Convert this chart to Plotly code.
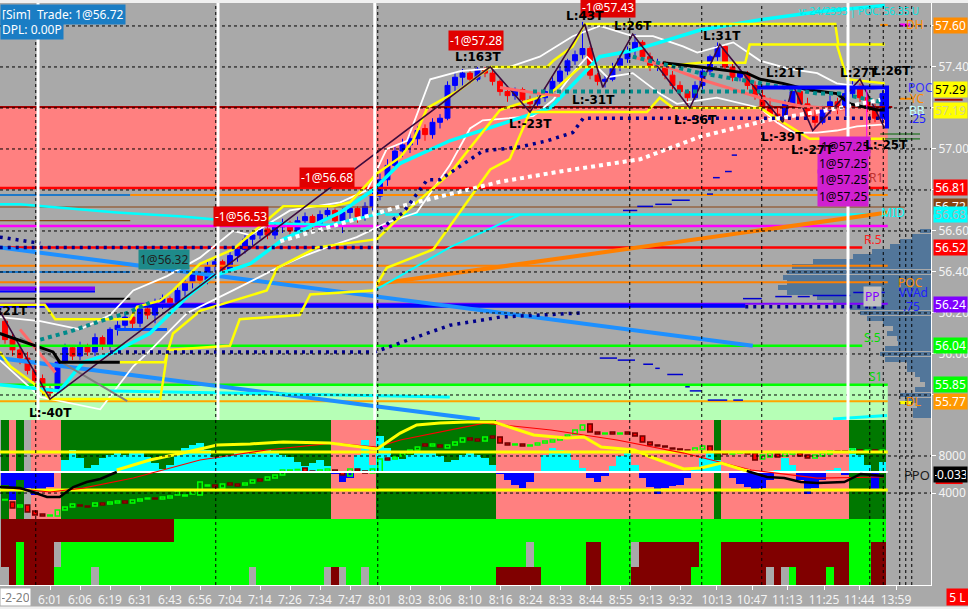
import plotly.graph_objects as go
from plotly.subplots import make_subplots

# ---------------- data ----------------
bar_index = list(range(-2, 116))

open_ = [56.16, 56.07, 56.02, 55.98, 55.92, 55.88, 55.83, 55.82, 55.96, 56.03,
         55.99, 56.04, 56.01, 56.08, 56.04, 56.12, 56.14, 56.18, 56.15, 56.22,
         56.19, 56.25, 56.27, 56.25, 56.31, 56.35, 56.39, 56.36, 56.43, 56.45,
         56.41, 56.48, 56.51, 56.56, 56.58, 56.61, 56.58, 56.62, 56.64, 56.60,
         56.65, 56.67, 56.63, 56.68, 56.70, 56.65, 56.69, 56.71, 56.67, 56.72,
         56.77, 56.85, 56.92, 56.99, 57.02, 57.05, 57.10, 57.07, 57.13, 57.15,
         57.31, 57.35, 57.37, 57.34, 57.39, 57.37, 57.33, 57.28, 57.26, 57.29,
         57.24, 57.22, 57.25, 57.28, 57.33, 57.38, 57.43, 57.46, 57.49, 57.36,
         57.33, 57.34, 57.40, 57.44, 57.48, 57.52, 57.45, 57.40, 57.42, 57.36,
         57.31, 57.28, 57.25, 57.31, 57.38, 57.45, 57.50, 57.40, 57.35, 57.37,
         57.31, 57.26, 57.21, 57.17, 57.16, 57.22, 57.28, 57.22, 57.16, 57.13,
         57.19, 57.23, 57.20, 57.27, 57.31, 57.25, 57.20, 57.15]
high_ = [56.18, 56.10, 56.05, 56.01, 55.95, 55.90, 55.85, 55.98, 56.05, 56.04,
         56.06, 56.05, 56.10, 56.09, 56.13, 56.16, 56.20, 56.19, 56.24, 56.23,
         56.27, 56.29, 56.28, 56.33, 56.37, 56.41, 56.40, 56.45, 56.47, 56.46,
         56.50, 56.53, 56.58, 56.60, 56.63, 56.62, 56.64, 56.66, 56.65, 56.67,
         56.69, 56.68, 56.70, 56.73, 56.71, 56.71, 56.73, 56.72, 56.74, 56.79,
         56.88, 56.95, 57.01, 57.05, 57.08, 57.11, 57.12, 57.15, 57.17, 57.33,
         57.37, 57.39, 57.38, 57.40, 57.40, 57.40, 57.34, 57.30, 57.30, 57.30,
         57.26, 57.26, 57.30, 57.35, 57.40, 57.44, 57.48, 57.62, 57.50, 57.37,
         57.36, 57.42, 57.46, 57.50, 57.56, 57.53, 57.47, 57.44, 57.43, 57.38,
         57.33, 57.29, 57.33, 57.40, 57.46, 57.52, 57.51, 57.42, 57.39, 57.38,
         57.33, 57.29, 57.25, 57.20, 57.24, 57.31, 57.29, 57.25, 57.19, 57.21,
         57.26, 57.25, 57.29, 57.34, 57.32, 57.27, 57.22, 57.31]
low_ = [56.05, 55.99, 55.95, 55.90, 55.85, 55.80, 55.79, 55.81, 55.94, 55.97,
        55.97, 55.99, 55.99, 56.02, 56.02, 56.09, 56.12, 56.12, 56.13, 56.17,
        56.15, 56.22, 56.22, 56.23, 56.28, 56.32, 56.33, 56.34, 56.40, 56.39,
        56.40, 56.45, 56.49, 56.53, 56.56, 56.56, 56.56, 56.59, 56.58, 56.58,
        56.62, 56.61, 56.61, 56.66, 56.62, 56.59, 56.66, 56.64, 56.65, 56.70,
        56.75, 56.82, 56.90, 56.96, 56.98, 57.02, 57.04, 57.05, 57.10, 57.14,
        57.28, 57.31, 57.32, 57.33, 57.35, 57.31, 57.26, 57.23, 57.24, 57.22,
        57.18, 57.20, 57.23, 57.27, 57.31, 57.36, 57.41, 57.44, 57.34, 57.31,
        57.30, 57.33, 57.38, 57.42, 57.45, 57.43, 57.38, 57.38, 57.34, 57.29,
        57.26, 57.21, 57.23, 57.29, 57.36, 57.43, 57.38, 57.33, 57.33, 57.29,
        57.24, 57.19, 57.15, 57.13, 57.15, 57.20, 57.20, 57.14, 57.10, 57.12,
        57.17, 57.17, 57.19, 57.25, 57.23, 57.18, 57.13, 57.12]
close_ = [56.07, 56.02, 55.98, 55.92, 55.87, 55.82, 55.81, 55.96, 56.03, 55.99,
          56.04, 56.01, 56.08, 56.04, 56.12, 56.14, 56.18, 56.15, 56.22, 56.19,
          56.25, 56.27, 56.25, 56.31, 56.35, 56.39, 56.36, 56.43, 56.45, 56.41,
          56.48, 56.51, 56.56, 56.58, 56.61, 56.58, 56.62, 56.64, 56.60, 56.65,
          56.67, 56.63, 56.68, 56.70, 56.65, 56.69, 56.71, 56.67, 56.72, 56.77,
          56.85, 56.92, 56.99, 57.02, 57.05, 57.09, 57.07, 57.13, 57.15, 57.31,
          57.35, 57.37, 57.34, 57.39, 57.37, 57.33, 57.28, 57.26, 57.29, 57.24,
          57.22, 57.25, 57.28, 57.33, 57.38, 57.43, 57.46, 57.49, 57.36, 57.33,
          57.34, 57.40, 57.44, 57.48, 57.52, 57.45, 57.40, 57.42, 57.36, 57.31,
          57.28, 57.25, 57.31, 57.38, 57.45, 57.50, 57.40, 57.35, 57.37, 57.31,
          57.26, 57.21, 57.17, 57.16, 57.22, 57.28, 57.22, 57.16, 57.13, 57.19,
          57.23, 57.20, 57.27, 57.31, 57.25, 57.20, 57.15, 57.27]

# oscillator panel (mini candles + histogram)
mini_open = [3250, 3030, 2490, 2710, 2060, 1740, 1520, 1520, 2170, 2490,
             2710, 2600, 2600, 2920, 2820, 2920, 3140, 2920, 3140, 3360,
             3460, 3360, 3460, 3790, 3680, 3900, 3790, 4760, 4870, 4540,
             5080, 4980, 4870, 5080, 5520, 5410, 5620, 5950, 6380, 6490,
             6700, 6380, 6270, 6380, 6490, 6270, 5840, 6600, 6380, 6160,
             6270, 7780, 7680, 8000, 8320, 8650, 9300, 9080, 9190, 8860,
             9190, 9510, 9940, 9840, 9620, 10160, 10050, 9400, 9190, 9300,
             9080, 9190, 9400, 9510, 9730, 10050, 10380, 10810, 11460, 10590,
             10380, 10590, 10380, 10590, 10480, 10160, 9510, 9190, 9080, 8860,
             8760, 8650, 8540, 8760, 9080, 8540, 8430, 8220, 8320, 8430,
             8320, 7680, 7890, 8220, 8000, 8220, 8320, 8110, 7780, 8000,
             8220, 8540, 8540, 8320, 8650, 8540, 8650, 8540]
mini_close = [3250, 2380, 2710, 1950, 1630, 1520, 1630, 2170, 2490, 2820,
              2600, 2490, 2920, 2710, 3030, 3140, 2920, 3250, 3360, 3460,
              3360, 3570, 3680, 4220, 3790, 4330, 5190, 4870, 4650, 4980,
              4870, 4760, 5080, 5410, 5300, 5730, 5950, 6490, 6490, 6490,
              6270, 6270, 6490, 6600, 6270, 5950, 6600, 6380, 6160, 6600,
              7680, 7570, 7890, 8320, 8650, 8970, 9080, 9300, 8970, 9190,
              9510, 9940, 9730, 9620, 10050, 9940, 9400, 9190, 9300, 9080,
              9190, 9400, 9620, 9730, 10050, 10270, 10810, 11350, 10590, 10380,
              10480, 10380, 10480, 10380, 10160, 9510, 9190, 9080, 8970, 8760,
              8650, 8540, 8860, 9080, 8430, 8320, 8220, 8320, 8320, 8220,
              7570, 8110, 8320, 7890, 8320, 8430, 8000, 7780, 8110, 8320,
              8540, 8430, 8430, 8760, 8540, 8650, 8540, 8650]
ppo_hist = [-1400, -3020, -860, -1730, -2480, -2160, -1620, -110, 1300, 2380,
            1510, 430, 760, 1510, 1840, 2050, 1840, 2160, 2160, 1620,
            970, 320, 760, 1840, 2590, 2920, 3130, 2380, 1620, 1730,
            1840, 2050, 2160, 1940, 2160, 2380, 2160, 1840, 1620, 1080,
            650, 970, 1300, 650, -220, -1080, -650, 1840, 3460, 760,
            3890, 2590, 1620, 1400, 1840, 2050, 2160, 2160, 1730, 1080,
            1300, 1840, 2050, 1840, 1510, 760, -220, -860, -1400, -1730,
            -1080, 20, 1840, 2590, 2380, 2050, 1300, 430, -650, -1080,
            -430, 650, 1730, 2160, 760, -650, -1620, -2380, -1730, -1510,
            -1400, -650, 430, 1510, 2050, 1300, -20, -650, -1300, -1620,
            -1940, -1730, -860, 220, 1510, 760, -860, -2380, -1730, -860,
            220, 430, -320, 2590, 1840, 760, -1940, 1080]
ppo_zero = 6270
ppo_bands = [8430, 4330]

# state runs (one character per bar)
osc_bg_runs = [('G', 1), ('P', 1), ('G', 1), ('X', 1), ('P', 4), ('G', 36), ('P', 6),
               ('G', 16), ('P', 29), ('G', 1), ('P', 17), ('G', 5)]
state_top_runs = [('R', 23), ('G', 95)]
state_mid_runs = [('R', 2), ('G', 1), ('R', 4), ('X', 1), ('G', 62), ('X', 1), ('G', 7),
                  ('R', 2), ('G', 4), ('X', 1), ('R', 8), ('G', 3), ('R', 17), ('G', 3), ('R', 2)]
state_bot_runs = [('X', 1), ('R', 1), ('G', 1), ('R', 4), ('G', 5), ('X', 1), ('G', 20), ('X', 1),
                  ('G', 9), ('X', 1), ('R', 1), ('X', 1), ('G', 2), ('X', 1), ('G', 17), ('R', 6),
                  ('G', 6), ('R', 2), ('G', 4), ('R', 8), ('G', 4), ('R', 6), ('X', 1), ('R', 1),
                  ('X', 1), ('G', 1), ('R', 4), ('G', 1), ('R', 2), ('G', 3), ('R', 2)]

# volume profile
profile_price = [56.600, 56.575, 56.550, 56.525, 56.500, 56.475, 56.450, 56.425, 56.400, 56.375,
                 56.350, 56.325, 56.300, 56.275, 56.250, 56.225, 56.200, 56.175, 56.150, 56.125,
                 56.100, 56.075, 56.050, 56.025, 56.000, 55.975, 55.950, 55.925, 55.900, 55.875,
                 55.850, 55.825, 55.800, 55.775, 55.750, 55.725, 55.700]
profile_vol = [110, 190, 310, 410, 590, 780, 1180, 1390, 1440, 1480,
               1440, 1530, 1440, 1140, 980, 810, 710, 640, 480, 380,
               440, 340, 330, 460, 510, 460, 240, 240, 160, 110,
               60, 160, 310, 260, 140, 180, 180]

# price levels
lvl_price = [57.205, 56.81, 56.776, 56.776, 56.717, 56.65, 56.68, 56.624, 56.52, 56.43, 56.35,
             56.245, 56.235, 56.04, 55.85, 55.77, 56.40, 56.32, 56.305, 56.27, 56.12,
             57.605, 57.605, 57.245, 55.763, 57.073, 57.049]
lvl_from = [-2.7, -2.7, -2.7, 14.7, -2.7, -2.7, 48.7, -2.7, -2.7, -2.7, -2.7,
            -2.7, -2.7, -2.7, -2.7, -2.7, -2.7, -2.7, -2.7, -2.7, 12.9,
            114.7, 117.3, 117.3, 117.3, 114.7, 114.7]
lvl_to = [116.3, 115.7, 14.7, 115.7, 118.0, 14.7, 115.7, 115.7, 112.3, 115.7, 115.7,
          115.7, 96.7, 112.3, 115.7, 115.7, 14.7, 10.0, 10.0, 14.7, 19.6,
          115.7, 118.7, 118.9, 118.9, 120.0, 120.0]
pink_zone = [56.81, 57.205]
s1_zone = [55.678, 55.85]

# indicator lines (bar index, price)
wu_x = [-2.7, 2.7, 8, 12, 15.1, 19.6, 24, 28.4, 30.7, 36, 42.7, 46.3, 48.9, 51.6, 54.7, 58.7, 65.3,
        69.3, 73.7, 77.3, 81.7, 84.4, 88.4, 90.3, 95.1, 98.7, 102.7, 106.3, 108.9, 112.9, 115.3]
wu_y = [56.18, 56.16, 56.12, 56.19, 56.31, 56.38, 56.47, 56.60, 56.58, 56.70, 56.74, 56.80, 57.00,
        57.04, 57.34, 57.38, 57.40, 57.45, 57.55, 57.60, 57.55, 57.55, 57.50, 57.47, 57.52, 57.43,
        57.39, 57.37, 57.32, 57.30, 57.29]
wl_x = [-2.7, 2.7, 10.7, 15.1, 17.7, 22.3, 28.4, 34.3, 37.3, 40.9, 44.9, 48.9, 52.9, 56, 57.3, 60,
        61.7, 68.4, 71.1, 73.7, 75.6, 78.3, 81.7, 85.3, 87.6, 92.9, 98.7, 100.9, 103.1, 106.3,
        108.9, 111.6, 115.3]
wl_y = [55.97, 55.79, 55.73, 55.94, 56.03, 56.20, 56.31, 56.42, 56.47, 56.52, 56.57, 56.64, 56.69,
        56.85, 56.92, 57.10, 57.14, 57.16, 57.24, 57.37, 57.45, 57.35, 57.37, 57.27, 57.22, 57.25,
        57.20, 57.13, 57.08, 57.08, 57.09, 57.11, 57.12]
yu_x = [-2.7, 3.3, 4.7, 14.7, 15.6, 18.7, 20.4, 24, 28.4, 35.1, 41.7, 44, 47.6, 50.7, 52.4, 54.3,
        58.7, 62.7, 70.3, 71.1, 73.7, 75.3, 108.7, 109.1, 115.3]
yu_y = [56.24, 56.24, 56.17, 56.17, 56.23, 56.26, 56.31, 56.44, 56.51, 56.72, 56.72, 56.74, 56.88,
        56.96, 57.04, 57.20, 57.29, 57.40, 57.40, 57.43, 57.50, 57.61, 57.61, 57.51, 57.51]
ym_x = [13.3, 19.3, 20.4, 24, 32.9, 34.3, 39.6, 47.6, 50.7, 57.3, 64, 70.7, 74.7, 84.9, 90.7, 96.7,
        97.3, 108.9, 110.3, 115.3]
ym_y = [55.96, 55.96, 56.10, 56.21, 56.31, 56.42, 56.52, 56.56, 56.67, 56.88, 57.19, 57.27, 57.40,
        57.40, 57.42, 57.42, 57.51, 57.51, 57.34, 57.32]
yl_x = [-2.7, -1.3, 1.7, 4, 18.7, 19.7, 28, 29.3, 37.3, 38.7, 47.1, 48.9, 55.1, 62.7, 65.3, 68,
        83.6, 85.3, 87.1, 98.7, 100.4, 105.3, 115.3]
yl_y = [56.01, 55.94, 55.86, 55.78, 55.78, 56.02, 56.04, 56.17, 56.19, 56.29, 56.31, 56.42, 56.51,
        56.90, 56.95, 57.18, 57.18, 57.25, 57.20, 57.20, 57.16, 57.05, 57.05]
cy_x = [-2.7, 5.3, 8.4, 12, 17.3, 22.3, 25.7, 30.7, 35.1, 42.7, 47.1, 50.7, 57.3, 70.7, 77.3, 81.7,
        90.7, 98.7, 106.7, 115.3]
cy_y = [55.85, 55.82, 55.96, 56.00, 56.10, 56.28, 56.38, 56.44, 56.56, 56.69, 56.80, 56.93, 57.04,
        57.20, 57.45, 57.48, 57.58, 57.63, 57.67, 57.70]
cy2_x = [47.3, 57.3, 66.7]
cy2_y = [56.31, 56.52, 56.68]
cyl_x = [-2.7, 0, 3.1, 12.9, 21.7, 30.7, 41.3, 48.7]
cyl_y = [56.73, 56.73, 56.72, 56.69, 56.67, 56.64, 56.63, 56.69]
cyb_x = [12, 57.3, None, 108.4, 115.6]
cyb_y = [55.82, 55.79, None, 55.683, 55.70]
zz_x = [-2.7, 4, 62.7, 68, 75.3, 77.7, 81.7, 89.3, 93.3, 101.7, 103.1, 105.7, 112, 115.3]
zz_y = [56.21, 55.78, 57.40, 57.18, 57.61, 57.30, 57.56, 57.20, 57.51, 57.13, 57.31, 57.09, 57.34, 57.10]
gd_x = [0, 14.3]
gd_y = [56.08, 55.77]
sa_x = [0, 4.7, None, 64, 69.3, 72, None, 81.7, 86.3, 90.7, 98.7, 104, 110.7]
sa_y = [56.12, 55.91, None, 57.30, 57.27, 57.26, None, 57.45, 57.40, 57.34, 57.25, 57.21, 57.19]
bk_x = [-2.7, 4.4, 5.3, 13.3, None, 85.7, 90.7, 96.9, 98.7, 101.7, 104.9, 108.9, 110.7, 114.3, 115.3]
bk_y = [56.10, 56.01, 55.96, 55.96, None, 57.42, 57.40, 57.37, 57.34, 57.32, 57.29, 57.27, 57.22,
        57.19, 57.19]
teal_x = [2.7, 6.7, 10.7, 14.3, 17.3, None, 68.4, 98.7, None, 81.7, 90.7, 97.3, 101.7, 106.3, 109.3, 114.7]
teal_y = [56.07, 56.11, 56.16, 56.20, 56.25, None, 57.28, 57.28, None, 57.45, 57.37, 57.33, 57.30,
          57.27, 57.27, 57.23]
wd_x = [34.7, 50.7, 64, 72, 82.7, 90.7, 99.6, 109.3, 114.7]
wd_y = [56.55, 56.72, 56.84, 56.89, 56.95, 57.06, 57.14, 57.20, 57.24]
navy_x = [-2.7, 48, None, 12, 47.3, 57.3, 64, 74.7, None, 48, 51.1, 54.3, 56, 61.7, 66.7, 70.3, 73.7,
          75.1, 115.3, None, -2.7, 2.7, None, 96.7, 115.3]
navy_y = [56.52, 56.52, None, 56.01, 56.01, 56.14, 56.18, 56.20, None, 56.61, 56.69, 56.85, 56.85,
          56.99, 57.01, 57.04, 57.08, 57.15, 57.15, None, 56.57, 56.54, None, 56.23, 56.23]
db_x = [-2.7, 97.7, None, -2.7, 61.3]
db_y = [56.52, 56.04, None, 55.98, 55.68]
or_x = [47.3, 115.7]
or_y = [56.34, 56.69]
stair_x = [77.3, 79.6, None, 79.7, 82, None, 83.1, 84.4, None, 84.7, 85.3, None, 86.3, 88.4, None,
           88.7, 89.3, None, 89.3, 90.9, None, 91.7, 94.3, None, 95.1, 96.4, None,
           96.4, 98.9, None, 100.7, 102.9, None, 103.7, 105.3, None, 105.7, 110.7, None, 111.1, 115.3, None,
           80.4, 82.3, None, 82.3, 84.4, None, 84.7, 86.9, None, 86.9, 89.3, None, 91.6, 92.4, None,
           92.4, 93.3, None, 94, 94.9, None, 94.9, 95.6]
stair_y = [55.98, 55.98, None, 55.97, 55.97, None, 55.95, 55.95, None, 55.93, 55.93, None, 55.90, 55.90, None,
           55.84, 55.84, None, 55.82, 55.82, None, 55.775, 55.775, None, 55.775, 55.775, None,
           56.27, 56.27, None, 56.28, 56.28, None, 56.28, 56.28, None, 56.285, 56.285, None, 56.30, 56.30, None,
           56.70, 56.70, None, 56.72, 56.72, None, 56.73, 56.73, None, 56.75, 56.75, None, 56.78, 56.78, None,
           56.86, 56.86, None, 56.89, 56.89, None, 56.97, 56.97]
box_x = [98.3, 115.6, 115.6, None, 110.3, 110.3]
box_y = [57.30, 57.30, 57.10, None, 57.30, 57.16]
mag_x = [112.9, 112.9]
mag_y = [57.29, 56.75]

# oscillator lines
py_x = [12.9, 17.3, 21.7, 26.3, 30.7, 35.1, 41.3, 46.3, 47.6, 50.7, 52.9, 56, 59.6, 63.2, 66.3, 68.5,
        72.9, 75.2, 77.5, 81.9, 84.1, 88.5, 90.8, 93.5, 96.5, 97.3]
py_y = [6490, 7570, 8320, 9190, 9300, 9510, 9400, 8860, 8760, 10480, 11350, 11560, 11670, 11670, 10810,
        10270, 9940, 10050, 8970, 8650, 7890, 6600, 6700, 7240, 6490, 6380]
pb_x = [-2.7, 0, 1.7, 3.6, 5.3, 7.1, 8.9, 10.7, 12.9, None, 96.9, 99.6, 101.9, 104.1, 106.3, 109.9,
        112.1, 115.2]
pb_y = [4650, 4540, 4110, 3570, 3570, 4650, 5190, 5520, 6270, None, 6380, 5730, 5620, 5190, 5080, 5190,
        6060, 5840]
pr_x = [-2.7, 4, 8.4, 15.1, 24, 32.9, 41.7, 47.6, 50.7, 61.9, 70.8, 79.6, 88.5, 97.5, 106.3, 112.9, 115.2]
pr_y = [4650, 4110, 4540, 5620, 7570, 8650, 9400, 8970, 9730, 11560, 10810, 9730, 8320, 6490, 5620,
        5730, 5730]

# axis ticks
tick_pos = [4, 8, 12, 16, 20, 24, 28, 32, 36, 40, 44, 48, 52, 56, 60, 64.1, 68.1, 72.1, 76.1, 80.1,
            84.1, 88.1, 92.9, 97.6, 102.3, 107.2, 111.9, 116.8]
tick_text = ["6:01", "6:06", "6:19", "6:31", "6:43", "6:56", "7:04", "7:14", "7:26", "7:34", "7:47",
             "8:01", "8:03", "8:06", "8:10", "8:16", "8:24", "8:33", "8:44", "8:55", "9:13", "9:32",
             "10:13", "10:47", "11:13", "11:25", "11:44", "13:59"]
price_ticks = [55.8, 56.0, 56.2, 56.4, 56.6, 56.8, 57.0, 57.2, 57.4, 57.6]
price_tick_text = ["", "56.00", "56.20", "56.40", "56.60", "", "57.00", "", "57.40", ""]
osc_ticks = [4000, 8000]
session_marks = [2.1, 26.1, 47.7, 81.3, 90.9, 98.9, 113.3, 115.1, 117.3, 118.1, 118.9]
white_marks = [2.4, 26.4, 47.3, 110.4]

# labels
rlab_text = ["57.60", "57.29", "57.19", "56.81", "56.72", "56.68", "56.52", "56.24", "56.04", "55.85", "55.77"]
rlab_price = [57.60, 57.29, 57.19, 56.81, 56.72, 56.68, 56.52, 56.24, 56.04, 55.85, 55.77]
rlab_bg = ["#ff8c00", "#ffff00", "#ffff00", "#ff0000", "#8b4513", "#00ffff", "#ff0000", "#8000ff",
           "#00ff00", "#00ff00", "#ff9900"]
rlab_fg = ["white", "black", "#d4d48c", "white", "white", "#a8b8b8", "white", "white", "white", "white", "white"]
rt_text = ["POC", "YC", "BB", ".25", "R1", "MID", "R.5", "POC", "VVAd", "PP", ".75", "S.5", "S1", "DL", "DH"]
rt_x = [120, 119.6, 119.6, 119.7, 114.1, 116.4, 113.7, 118.7, 119.1, 113.7, 118.9, 113.7, 114, 119.1, 119.3]
rt_price = [57.30, 57.245, 57.19, 57.15, 56.86, 56.69, 56.56, 56.35, 56.30, 56.28, 56.23, 56.08, 55.89,
            55.77, 57.605]
rt_color = ["#3030ff", "#ff8c00", "#c0ffff", "#2020ff", "#c03030", "#00ffff", "#ff2020", "#ff8c00",
            "#2020ff", "#8000ff", "#2020ff", "#00dd00", "#00dd00", "#ff8c00", "#ff8c00"]
tr_text = ["-1@57.28", "-1@57.43", "-1@56.68", "-1@56.53", "1@56.32", "1@57.25", "1@57.25", "1@57.25", "1@57.25"]
tr_x = [60.8, 78.4, 40.9, 29.5, 19.2, 110, 109.7, 109.7, 109.7]
tr_price = [57.53, 57.69, 56.86, 56.67, 56.46, 57.01, 56.93, 56.85, 56.77]
tr_bg = ["#e00000", "#e00000", "#e00000", "#e00000", "#1e8a8a", "#d020d0", "#d020d0", "#d020d0", "#d020d0"]
tr_fg = ["white", "white", "white", "white", "#202020", "black", "black", "black", "black"]
sw_text = ["L:43T", "L:26T", "L:163T", "L:31T", "L:21T", "L:27T", "L:26T", "L:-31T", "L:-23T", "L:-36T",
           "L:-39T", "L:-27T", "L:-25T", "L:-40T"]
sw_x = [75.3, 81.7, 61.1, 93.6, 102, 111.9, 116.3, 76.4, 68, 90, 101.7, 105.6, 115.5, 4]
sw_price = [57.65, 57.60, 57.45, 57.55, 57.37, 57.37, 57.38, 57.24, 57.12, 57.14, 57.06, 56.995, 57.02, 55.71]

# ---------------- figure ----------------
GRAY = "#a9a9a9"
FONT = "Noto Sans"
x_range = [-2.667, 121.467]
main_range = [55.678, 57.712]
osc_range = [1196, 11888]
state_range = [0, 66]
state_base = [43, 18, 0]
state_h = [23, 25, 18]


def expand(runs):
    out = []
    for ch, n in runs:
        out += [ch] * n
    return out


fig = make_subplots(rows=3, cols=1, shared_xaxes=True, vertical_spacing=0)


def line(x, y, color, width, dash=None, row=1):
    fig.add_trace(go.Scatter(x=x, y=y, mode="lines", hoverinfo="skip",
                             line=dict(color=color, width=width, dash=dash)), row=row, col=1)


# volume profile
fig.add_trace(go.Bar(orientation="h", y=profile_price, x=[-v / 75 for v in profile_vol],
                     base=x_range[1], width=0.024, marker=dict(color="#52769a", line=dict(width=0)),
                     hoverinfo="skip"), row=1, col=1)

lvl_color = ["#a00000", "#ff0000", "#1e78c8", "#ff8c00", "#8b4513", "#8b4513", "#00ffff", "#ff00ff",
             "#ff0000", "#ff8000", "#ff8000", "#8000ff", "#0000ff", "#00ff00", "#00ff00", "#ffa500",
             "#1e78c8", "#8000ff", "#0000ff", "#000000", "#0050ff",
             "#ff8c00", "#ff00ff", "#ff8c00", "#ffff00", "#006400", "#006400"]
lvl_width = [2, 2.5, 2, 2, 1.2, 1.2, 2.5, 2.5, 2.5, 2, 2, 2, 4, 2.5, 2.5, 2, 2, 4, 2, 2, 3,
             2, 3, 2, 3, 1, 1]
for p, a, b, c, w in zip(lvl_price, lvl_from, lvl_to, lvl_color, lvl_width):
    line([a, b], [p, p], c, w)

line(db_x, db_y, "#1e90ff", 4)
line(or_x, or_y, "#ff8000", 4)
line(stair_x, stair_y, "#0000cd", 1.5)

# candles
fig.add_trace(go.Candlestick(x=bar_index, open=open_, high=high_, low=low_, close=close_,
                             increasing=dict(line=dict(color="#0000ff", width=1), fillcolor="#0000ff"),
                             decreasing=dict(line=dict(color="#ff0000", width=1), fillcolor="#ff0000"),
                             whiskerwidth=0, hoverinfo="skip"), row=1, col=1)

line(wu_x, wu_y, "#ffffff", 1.8)
line(wl_x, wl_y, "#ffffff", 1.8)
line(cyl_x, cyl_y, "#00ffff", 2.5)
line(cyb_x, cyb_y, "#00ffff", 3)
line(cy2_x, cy2_y, "#00ffff", 2)
line(cy_x, cy_y, "#00ffff", 3.5)
line(yl_x, yl_y, "#ffff00", 2.5)
line(ym_x, ym_y, "#ffff00", 2.5)
line(yu_x, yu_y, "#ffff00", 2.5)
line(gd_x, gd_y, "#808080", 2)
line(zz_x, zz_y, "#3c0a3c", 1.6)
line(sa_x, sa_y, "#ff6a6a", 3)
line(bk_x, bk_y, "#000000", 3)
line(teal_x, teal_y, "#008b8b", 4, dash="4px,4px")
line(wd_x, wd_y, "#ffffff", 4, dash="4px,4px")
line(navy_x, navy_y, "#00008b", 3.5, dash="3px,5px")
line(box_x, box_y, "#0000ff", 4)
line(mag_x, mag_y, "#ff00ff", 1)

# ---- oscillator panel ----
bg_map = {"G": "#007800", "P": "#ff8080", "X": GRAY}
fig.add_trace(go.Bar(x=bar_index, y=[osc_range[1] - osc_range[0]] * len(bar_index), base=osc_range[0],
                     width=1.02, marker=dict(color=[bg_map[c] for c in expand(osc_bg_runs)], line=dict(width=0)),
                     hoverinfo="skip"), row=2, col=1)
fig.add_trace(go.Bar(x=bar_index, y=ppo_hist, base=ppo_zero, width=1.02,
                     marker=dict(color=["#00ffff" if h >= 0 else "#0000ff" for h in ppo_hist], line=dict(width=0)),
                     hoverinfo="skip"), row=2, col=1)
for lv in ppo_bands:
    line([-2.7, 115.7], [lv, lv], "#ffff00", 3, row=2)
line([-2.7, 115.7], [ppo_zero, ppo_zero], "#ffffff", 2, row=2)
up = [c >= o for o, c in zip(mini_open, mini_close)]
fig.add_trace(go.Bar(x=bar_index, base=[min(o, c) for o, c in zip(mini_open, mini_close)],
                     y=[max(abs(c - o), 60) for o, c in zip(mini_open, mini_close)], width=0.6,
                     marker=dict(color=["rgba(0,0,0,0)" if u else "#ff0000" for u in up],
                                 line=dict(color=["#00ff00" if u else "#700000" for u in up], width=1.5)),
                     hoverinfo="skip"), row=2, col=1)
line(pr_x, pr_y, "#ff0000", 1.2, row=2)
line(py_x, py_y, "#ffff00", 3, row=2)
line(pb_x, pb_y, "#000000", 2.5, row=2)

# ---- state panel ----
st_map = {"R": "#800000", "G": "#00ff00", "X": GRAY}
for runs, b, h in zip([state_top_runs, state_mid_runs, state_bot_runs], state_base, state_h):
    fig.add_trace(go.Bar(x=bar_index, y=[h] * len(bar_index), base=b, width=1.02,
                         marker=dict(color=[st_map[c] for c in expand(runs)], line=dict(width=0)),
                         hoverinfo="skip"), row=3, col=1)

# ---------------- shapes ----------------
shapes = []
shapes.append(dict(type="rect", xref="x", yref="y", x0=-2.7, x1=115.7, y0=pink_zone[0], y1=pink_zone[1],
                   fillcolor="#ff8080", line=dict(width=0), layer="below"))
shapes.append(dict(type="rect", xref="x", yref="y", x0=-2.7, x1=115.7, y0=s1_zone[0], y1=s1_zone[1],
                   fillcolor="#b6ffb6", line=dict(width=0), layer="below"))
for p in price_ticks:
    shapes.append(dict(type="line", xref="paper", yref="y", x0=0, x1=1, y0=p, y1=p,
                       line=dict(color="black", width=1, dash="3px,3px"), layer="above"))
for v in osc_ticks:
    shapes.append(dict(type="line", xref="paper", yref="y2", x0=0, x1=1, y0=v, y1=v,
                       line=dict(color="black", width=1, dash="3px,3px"), layer="above"))
for xm in white_marks:
    shapes.append(dict(type="line", xref="x", yref="y domain", x0=xm, x1=xm, y0=0, y1=1,
                       line=dict(color="white", width=3), layer="above"))
for xm in session_marks:
    shapes.append(dict(type="line", xref="x", yref="paper", x0=xm, x1=xm, y0=0, y1=1,
                       line=dict(color="black", width=1, dash="3px,3px"), layer="above"))
shapes.append(dict(type="rect", xref="paper", yref="paper", x0=-0.01, x1=1.05, y0=1.0, y1=1.006,
                   fillcolor="#f0f0f0", line=dict(width=0), layer="above"))
shapes.append(dict(type="rect", xref="paper", yref="paper", x0=-0.01, x1=1.05, y0=-0.037, y1=-0.045,
                   fillcolor="#f0f0f0", line=dict(width=0), layer="above"))
shapes.append(dict(type="line", xref="paper", yref="y", x0=1.004, x1=1.034, y0=57.24, y1=57.24,
                   line=dict(color="#a00000", width=2)))
shapes.append(dict(type="line", xref="paper", yref="y2", x0=1.005, x1=1.034, y0=5080, y1=5080,
                   line=dict(color="#ff0000", width=2)))

# ---------------- annotations ----------------
ann = []


def text(t, x, y, color, size=12, xref="x", yref="y", bg=None, xanchor="center", yanchor="middle",
         family=FONT, width=None, height=None):
    d = dict(text=t, x=x, y=y, xref=xref, yref=yref, showarrow=False, xanchor=xanchor, yanchor=yanchor,
             font=dict(color=color, size=size, family=family), borderpad=1)
    if bg:
        d["bgcolor"] = bg
    if width:
        d["width"] = width
    if height:
        d["height"] = height
    ann.append(d)


for t, x, p, c in zip(rt_text, rt_x, rt_price, rt_color):
    text(t, x, p, c, size=12, bg="#c0c0c0" if t == "PP" else None)
text("v: 24/2393 | POC: 56.35 U", 103.6, 57.672, "#00e5e5", size=10, xanchor="left")
for t, x, p, b, f in zip(tr_text, tr_x, tr_price, tr_bg, tr_fg):
    text(t, x, p, f, size=12, bg=b)
for t, x, p in zip(sw_text, sw_x, sw_price):
    text("<b>%s</b>" % t, x, p, "black", size=12, family="DejaVu Sans")
text("<b>L:21T</b>", 1.3, 56.21, "black", size=12, family="DejaVu Sans", xanchor="right")
for t, p, b, f in zip(rlab_text, rlab_price, rlab_bg, rlab_fg):
    text(t, 1.0022, p, f, size=12, xref="paper", bg=b, xanchor="left", width=31, height=13)
text("PPO", 119.6, 5950, "#1a1a1a", size=13, yref="y2")
text("-0.033", 1.0022, 5950, "white", size=12, xref="paper", yref="y2", bg="black", xanchor="left",
     width=31, height=13)
text("[Sim]&nbsp; Trade: 1@56.72", 0, 0.9983, "white", size=12, xref="paper", yref="paper",
     bg="#1a7dc4", xanchor="left", yanchor="top")
text("DPL: 0.00P", 0, 0.9725, "white", size=12, xref="paper", yref="paper",
     bg="#1a7dc4", xanchor="left", yanchor="top")
text("-2-20", 0, -0.0206, "#808080", size=12, xref="paper", yref="paper", bg="white",
     xanchor="left", width=27, height=14)
text("5 L", 1.0161, -0.0206, "white", size=12, xref="paper", yref="paper", bg="#ff0000",
     xanchor="left", width=19, height=14)

# ---------------- layout ----------------
axis_font = dict(color="#f4f4f4", size=12, family=FONT)
fig.update_layout(
    width=968, height=609, margin=dict(l=0, r=37, t=3, b=24),
    paper_bgcolor=GRAY, plot_bgcolor=GRAY, showlegend=False, hovermode=False,
    barmode="overlay", bargap=0, boxgap=0.35, boxgroupgap=0,
    shapes=shapes, annotations=ann,
    yaxis=dict(domain=[0.28351, 1], range=main_range, side="right", tickvals=price_ticks,
               ticktext=price_tick_text, showgrid=False, zeroline=False,
               showline=True, linecolor="white", linewidth=1, ticks="outside", ticklen=4,
               tickcolor="white", tickfont=axis_font, automargin=False),
    yaxis2=dict(domain=[0.1134, 0.28351], range=osc_range, side="right", tickvals=osc_ticks,
                ticktext=["4000", "8000"], showgrid=False, zeroline=False, showline=True,
                linecolor="white", ticks="outside", ticklen=4, tickcolor="white", tickfont=axis_font,
                automargin=False),
    yaxis3=dict(domain=[0, 0.1134], range=state_range, side="right", showticklabels=False,
                showgrid=False, zeroline=False, showline=True, linecolor="white", ticks="",
                automargin=False),
)
fig.update_xaxes(range=x_range, showgrid=False, zeroline=False, rangeslider_visible=False,
                 automargin=False)
fig.update_xaxes(showticklabels=False, ticks="", showline=False, row=1, col=1)
fig.update_xaxes(showticklabels=False, ticks="", showline=False, row=2, col=1)
fig.update_xaxes(tickvals=tick_pos, ticktext=tick_text, ticks="outside", ticklen=4, tickcolor="white",
                 showline=True, linecolor="white", tickfont=axis_font, row=3, col=1)

fig.write_html("out.html", config={"displayModeBar": False, "staticPlot": True},
               post_script="document.body.style.margin='0px';document.body.style.overflow='hidden';")
